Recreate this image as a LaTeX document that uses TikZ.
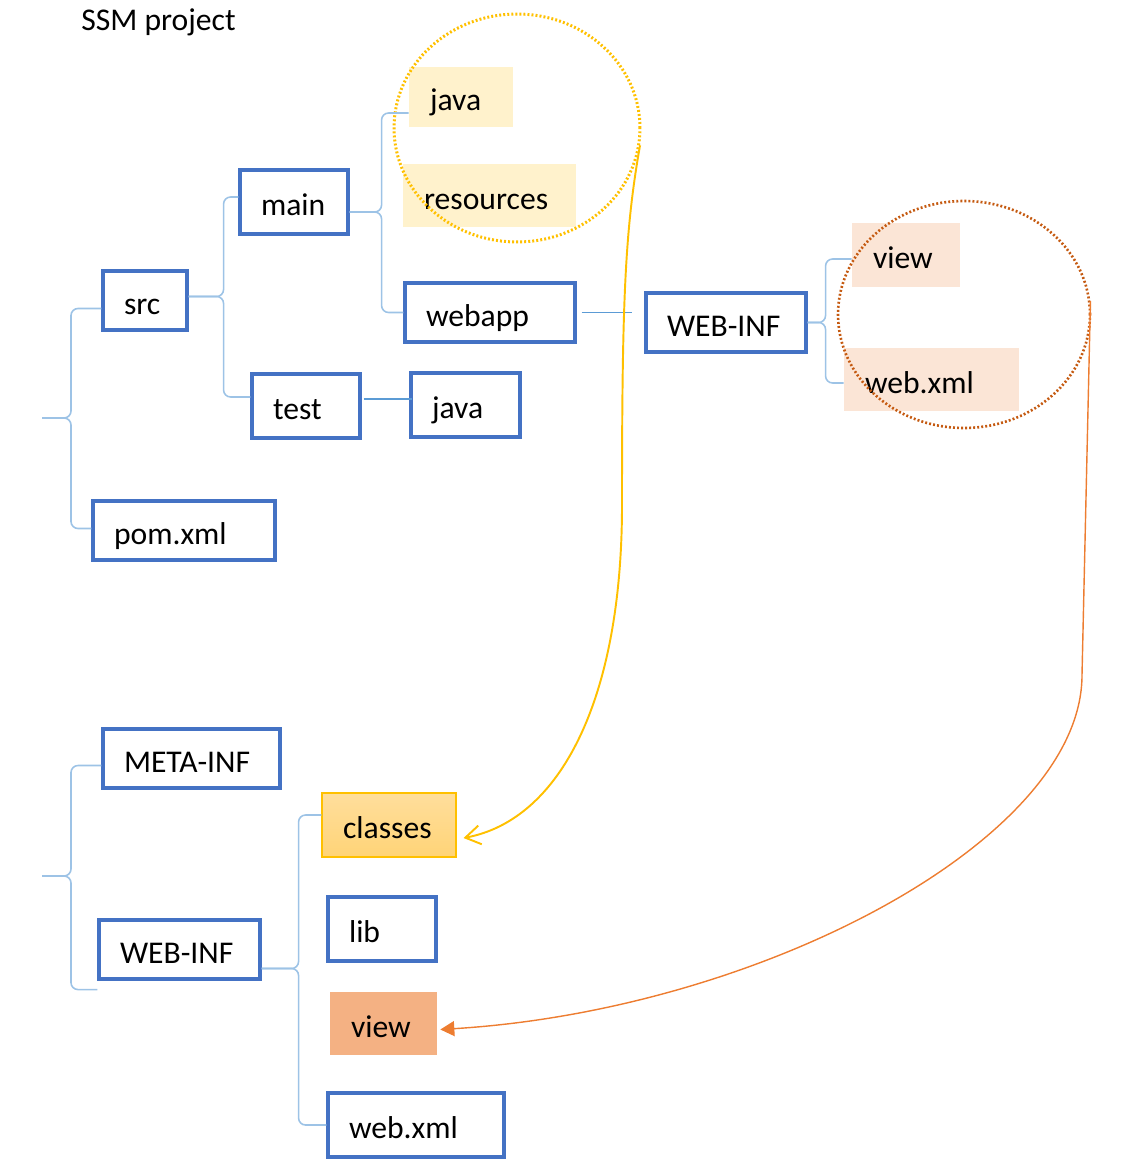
\documentclass[tikz,border=0pt]{standalone}
\usepackage{fontspec}
\setmainfont{Carlito}
\usetikzlibrary{arrows.meta,shapes.geometric,calc}
\definecolor{boxblue}{HTML}{4472C4}
\definecolor{bracelight}{HTML}{9DC3E6}
\definecolor{linkblue}{HTML}{5B9BD5}
\definecolor{goldring}{HTML}{FFC000}
\definecolor{rustring}{HTML}{C55A11}
\definecolor{paleyellow}{HTML}{FFF2CC}
\definecolor{palepeach}{HTML}{FBE5D6}
\definecolor{peach}{HTML}{F4B183}
\definecolor{orangearrow}{HTML}{ED7D31}
\definecolor{goldtop}{HTML}{FFDE9C}
\definecolor{goldbottom}{HTML}{FFD477}

\begin{document}
\begin{tikzpicture}[x=0.02cm,y=-0.02cm,
  font=\fontsize{18pt}{21pt}\selectfont,
  folder/.style={draw=boxblue,line width=1.8pt,inner xsep=0.42cm,inner ysep=0pt,align=left,text height=15.5pt,text depth=0pt},
  tag/.style={inner xsep=0.42cm,inner ysep=0pt,align=left,text height=15.5pt,text depth=0pt},
  brace/.style={draw=bracelight,line width=0.9pt,rounded corners=0.14cm},
  link/.style={draw=linkblue,line width=0.6pt},
  ring/.style={ellipse,inner sep=0pt,line width=1.7pt,dash pattern=on 1.1pt off 1.2pt}]
\useasboundingbox (0,0) rectangle (1145,1166);

\node[inner sep=0pt,anchor=west] (title) at (81,22) {SSM project};

% highlighted entries
\node[tag,fill=paleyellow,text width=1.24cm,minimum height=1.2cm] (java1) at (461,97) {java};
\node[tag,fill=paleyellow,text width=2.62cm,minimum height=1.26cm] (resources) at (489.5,195.5) {resources};
\node[tag,fill=palepeach,text width=1.32cm,minimum height=1.28cm] (view1) at (906,255) {view};
\node[tag,fill=palepeach,text width=2.66cm,minimum height=1.26cm] (webxml1) at (931.5,379.5) {web.xml};
\node[ring,draw=goldring,minimum width=4.92cm,minimum height=4.56cm] (hlcore) at (517,128) {};
\node[ring,draw=rustring,line width=1.5pt,minimum width=5.04cm,minimum height=4.54cm] (hlweb) at (964,314.5) {};

% source tree
\node[folder,text width=0.84cm,minimum height=1.18cm] (src) at (145,300.5) {src};
\node[folder,text width=1.32cm,minimum height=1.28cm] (main) at (294,202) {main};
\node[folder,text width=1.32cm,minimum height=1.28cm] (test) at (306,406) {test};
\node[folder,text width=1.34cm,minimum height=1.28cm] (java2) at (465.5,405) {java};
\node[folder,text width=2.56cm,minimum height=1.18cm] (webapp) at (490,312.5) {webapp};
\node[folder,text width=2.36cm,minimum height=1.18cm] (webinf1) at (726,322.5) {WEB-INF};
\node[folder,text width=2.8cm,minimum height=1.18cm] (pom) at (184,530.5) {pom.xml};
\coordinate (roottip1) at (42,418);

% war tree
\node[folder,text width=2.7cm,minimum height=1.18cm] (metainf) at (191.5,758.5) {META-INF};
\node[folder,text width=2.38cm,minimum height=1.18cm] (webinf2) at (179.5,949.5) {WEB-INF};
\node[tag,draw=goldring,line width=0.6pt,top color=goldtop,bottom color=goldbottom,
  text width=1.84cm,minimum height=1.28cm] (classes) at (389,825) {classes};
\node[folder,text width=1.32cm,minimum height=1.28cm] (lib) at (382,929) {lib};
\node[tag,fill=peach,text width=1.3cm,minimum height=1.26cm] (view2) at (383.5,1023.5) {view};
\node[folder,text width=2.68cm,minimum height=1.28cm] (webxml2) at (416,1125) {web.xml};
\coordinate (roottip2) at (42,876);

% braces
\draw[brace] (roottip1) -- ++(29,0) |- ([yshift=-0.16cm]src.west);
\draw[brace] (roottip1) -- ++(29,0) |- ([yshift=0.04cm]pom.west);
\draw[brace] ([yshift=0.08cm]src.east) -- ++(35,0) |- ([yshift=0.1cm]main.west);
\draw[brace] ([yshift=0.08cm]src.east) -- ++(35,0) |- ([yshift=0.18cm]test.west);
\draw[brace] ([yshift=-0.2cm]main.east) -- ++(32,0) |- ([yshift=-0.32cm]java1.west);
\draw[brace] ([yshift=-0.2cm]main.east) -- ++(32,0) |- (webapp.west);
\draw[brace] (webinf1.east) -- ++(18,0) |- ([yshift=-0.08cm]view1.west);
\draw[brace] (webinf1.east) -- ++(18,0) |- ([yshift=-0.07cm]webxml1.west);
\draw[brace] (roottip2) -- ++(29,0) |- ([yshift=-0.14cm]metainf.west);
\draw[brace] (roottip2) -- ++(29,0) |- ([yshift=-0.18cm]webinf2.south west);
\draw[brace] ([yshift=-0.38cm]webinf2.east) -- ++(37,0) |- ([yshift=0.2cm]classes.west);
\draw[brace] ([yshift=-0.38cm]webinf2.east) -- ++(37,0) |- (webxml2.west);

% links
\draw[link,shorten <=0.1cm,shorten >=0.24cm] (webapp.east) -- (webapp.east -| webinf1.west);
\draw[link,shorten <=0.04cm,shorten >=-0.06cm] ([yshift=0.14cm]test.east) -- ([yshift=0.14cm]test.east -| java2.west);

% build output
\draw[goldring,line width=1.1pt,-{Straight Barb[length=0.3cm,width=0.38cm]}] (hlcore.-8)
  .. controls (625,230) and (622,300) .. (622,505)
  .. controls (622,700) and (560,820) .. ($(classes.east)+(7,13)$);
\draw[orangearrow,line width=0.8pt,-{Triangle[length=0.28cm,width=0.3cm]}] (hlweb.6)
  -- (1082,675) .. controls (1082,840) and (760,1010) .. ($(view2.east)+(3,6)$);
\end{tikzpicture}
\end{document}
